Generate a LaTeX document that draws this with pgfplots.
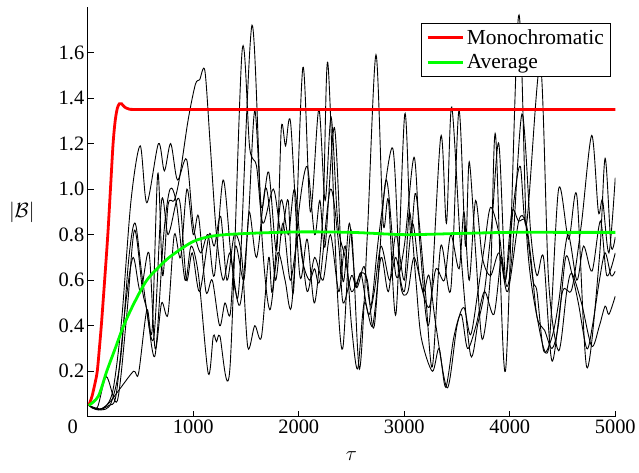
\documentclass[border=0pt]{standalone}
\usepackage{fontspec}
\setmainfont{Liberation Serif}
\usepackage{pgfplots}
\pgfplotsset{compat=1.18}
\definecolor{pgreen}{RGB}{0,255,0}

\begin{document}
\begin{tikzpicture}
\begin{axis}[
    scale only axis,
    width=529bp, height=411bp,
    xmin=0, xmax=5000, ymin=0, ymax=1.8,
    axis lines=left,
    axis line style={-, line width=0.8bp},
    tick align=inside,
    major tick length=6bp,
    tick style={line width=0.6bp, black},
    xtick={0,1000,2000,3000,4000,5000},
    xticklabels={\makebox[0pt][r]{0\hspace{10bp}},1000,2000,3000,4000,5000},
    ytick={0.2,0.4,0.6,0.8,1.0,1.2,1.4,1.6},
    /pgf/number format/assume math mode=true,
    y tick label style={/pgf/number format/.cd,fixed,fixed zerofill,precision=1,/tikz/.cd},
    tick label style={font=\fontsize{20.5bp}{24bp}\selectfont},
    xlabel={$\tau$},
    ylabel={$|\mathcal{B}|$},
    every axis x label/.style={at={(axis description cs:0.5,-0.097)},anchor=center},
    every axis y label/.style={at={(axis description cs:-0.125,0.5)},anchor=center},
    label style={font=\fontsize{21bp}{25bp}\selectfont},
    legend style={at={(0.992,0.961)}, anchor=north east, draw=black, line width=0.6bp,
        fill=white, font=\fontsize{21.5bp}{24bp}\selectfont,
        inner xsep=5bp, inner ysep=4bp, row sep=5bp,
        /tikz/every even column/.append style={column sep=4bp}},
    legend cell align=left,
    legend image code/.code={\draw[#1] (0bp,0bp) -- (36bp,0bp);},
]
% individual realisations
\addplot[black, line width=0.9bp, smooth, forget plot] coordinates {
(10,.05)(80,.035)(160,.04)(240,.12)(320,.42)(410,.95)(497,1.19)(560,.94)(670,1.20)(726,1.08)
(786,1.20)(850,1.04)(937,1.13)(1000,.84)(1070,.72)(1140,.80)(1200,.62)(1283,1.04)(1360,.70)
(1441,.49)(1520,.85)(1583,1.345)(1646,.92)(1715,1.075)(1790,.73)(1835,1.27)(1875,1.19)(1923,1.29)
(2010,.62)(2080,.78)(2150,.50)(2230,.90)(2275,1.556)(2360,.60)(2417,.30)(2496,.82)(2575,.21)
(2650,.80)(2732,1.59)(2800,.85)(2850,.95)(2921,.45)(3005,1.33)(3060,.80)(3110,.98)(3200,.55)
(3266,.22)(3346,.75)(3441,.56)(3518,1.345)(3580,.75)(3616,1.12)(3680,.70)(3739,.34)(3818,.63)
(3865,1.24)(3959,.20)(4083,1.76)(4160,.80)(4258,.44)(4368,.30)(4463,1.0)(4558,.78)(4636,.97)
(4730,.217)(4850,.70)(4904,1.135)(4960,.75)(5000,.79)
};
\addplot[black, line width=0.9bp, smooth, forget plot] coordinates {
(10,.05)(90,.04)(176,.176)(280,.07)(370,.45)(443,.82)(520,.55)(560,.47)(638,.27)(720,.80)
(780,1.0)(843,.93)(922,.60)(980,.75)(1050,.62)(1142,.19)(1190,.355)(1220,.33)(1252,.355)
(1347,.21)(1463,1.607)(1535,1.18)(1600,1.10)(1660,.85)(1760,1.0)(1835,.80)(1900,.95)(1950,.55)
(2039,1.534)(2110,.90)(2190,1.35)(2250,.95)(2307,1.316)(2370,.85)(2440,.70)(2500,.55)(2590,.63)
(2650,.60)(2716,.40)(2826,1.04)(2921,.62)(3000,.75)(3093,1.14)(3150,.75)(3235,.41)(3346,1.23)
(3400,.85)(3450,1.36)(3540,.70)(3629,.27)(3698,.41)(3760,.55)(3830,.85)(3896,1.20)(3959,.60)
(4020,.70)(4116,1.33)(4200,.80)(4258,.62)(4320,.70)(4400,.245)(4500,.55)(4588,.56)(4680,.85)
(4777,1.236)(4840,.90)(4880,.95)(4940,.72)(5000,1.05)
};
\addplot[black, line width=0.9bp, smooth, forget plot] coordinates {
(10,.05)(100,.03)(200,.06)(300,.12)(434,.20)(481,.19)(560,.47)(610,.38)(664,1.07)(710,.62)
(761,.93)(820,.95)(870,1.05)(950,1.30)(1020,1.46)(1060,1.48)(1110,1.52)(1160,1.20)(1220,.80)
(1283,.60)(1347,.72)(1400,.55)(1441,.62)(1557,1.72)(1650,.80)(1725,.47)(1800,.72)(1870,.60)
(1929,.48)(2000,.90)(2080,1.10)(2150,.80)(2200,.95)(2250,.75)(2338,1.27)(2417,.60)(2480,.85)
(2543,.57)(2620,.66)(2685,.49)(2760,.80)(2890,1.18)(2960,.60)(3031,.545)(3093,.70)(3180,.55)
(3235,.62)(3300,.40)(3408,.127)(3500,.40)(3566,.48)(3629,.36)(3698,.55)(3760,.75)(3818,.92)
(3900,.80)(3960,.60)(4040,.95)(4100,1.10)(4160,.85)(4290,1.55)(4368,.60)(4463,.29)(4540,.55)
(4588,.63)(4680,.50)(4777,.31)(4850,.40)(4904,.486)(4940,.45)(5000,.53)
};
\addplot[black, line width=0.9bp, smooth, forget plot] coordinates {
(10,.05)(120,.03)(220,.06)(310,.25)(390,.70)(450,.85)(520,.60)(623,.34)(700,.95)(761,.80)
(843,.95)(880,.92)(935,.60)(990,.72)(1060,.55)(1150,.80)(1200,.75)(1260,.88)(1320,.60)(1390,.80)
(1460,.70)(1517,.305)(1583,.40)(1646,.35)(1715,.70)(1750,.55)(1830,.95)(1900,.80)(1960,1.0)
(2030,.70)(2100,.60)(2150,.65)(2200,.60)(2300,1.0)(2380,.75)(2420,.50)(2500,.62)(2543,.57)
(2590,.63)(2660,.45)(2716,.55)(2780,.75)(2860,.60)(2921,.70)(3000,.55)(3078,.85)(3150,.60)
(3235,.48)(3300,.65)(3380,.60)(3441,.80)(3520,.65)(3566,.90)(3616,.60)(3676,.95)(3740,.70)
(3818,.62)(3900,.72)(3980,.55)(4085,.86)(4150,.85)(4220,.60)(4258,.55)(4321,.29)(4400,.35)
(4463,.50)(4550,.80)(4636,.60)(4700,.75)(4780,.64)(4860,.86)(4920,.62)(5000,.72)
};
\addplot[black, line width=0.9bp, smooth, forget plot] coordinates {
(10,.05)(110,.035)(200,.05)(270,.10)(360,.50)(430,.70)(500,.55)(580,.72)(638,.30)(700,.50)
(760,.45)(820,.80)(880,.70)(940,1.0)(1000,.80)(1050,.88)(1120,.55)(1180,.60)(1250,.40)(1300,.50)
(1350,.45)(1400,.75)(1480,.60)(1530,.90)(1600,.70)(1680,1.0)(1725,.90)(1780,.60)(1850,.85)
(1920,.60)(2000,.80)(2080,.55)(2150,.70)(2230,.60)(2300,.80)(2380,.55)(2440,.75)(2500,.40)
(2558,.21)(2620,.50)(2700,.40)(2780,.70)(2850,.55)(2920,.80)(3000,.60)(3050,.90)(3110,.60)
(3160,.35)(3266,.20)(3330,.30)(3393,.13)(3470,.35)(3540,.45)(3600,.30)(3680,.40)(3760,.55)
(3850,.45)(3920,.70)(3960,.60)(4020,.90)(4083,.86)(4150,.86)(4200,.70)(4258,.44)(4330,.38)
(4400,.30)(4460,.40)(4530,.70)(4588,.63)(4650,.50)(4730,.30)(4784,.40)(4850,.60)(4904,.72)
(4960,.62)(5000,.64)
};
% monochromatic and ensemble average
\addplot[red, line width=2.8bp, smooth] coordinates {
(10,0.05)(40,0.09)(70,0.15)(90,0.2)(110,0.3)(130,0.41)(160,0.6)(190,0.8)(215,1.0)(240,1.2)
(260,1.3)(280,1.355)(300,1.375)(320,1.375)(350,1.36)(390,1.352)(450,1.35)(1000,1.35)(5000,1.35)
};
\addplot[pgreen, line width=2.8bp, smooth] coordinates {
(10,0.05)(100,0.09)(180,0.2)(260,0.3)(340,0.4)(440,0.5)(560,0.6)(700,0.67)(800,0.71)(1000,0.77)
(1200,0.795)(1500,0.805)(2000,0.812)(2500,0.81)(3000,0.80)(3500,0.805)(4000,0.81)(4500,0.81)(5000,0.81)
};
\legend{Monochromatic, Average}
\coordinate (bbA) at (axis description cs:-0.1664,-0.1363);
\coordinate (bbB) at (axis description cs:1.0416,1.017);
\end{axis}
\useasboundingbox (bbA) rectangle (bbB);
\end{tikzpicture}
\end{document}
